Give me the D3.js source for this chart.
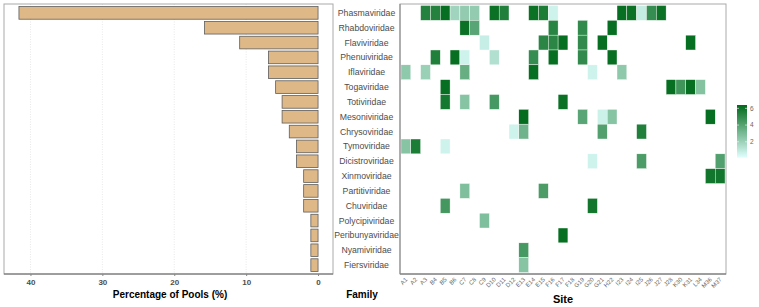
<!DOCTYPE html>
<html>
<head>
<meta charset="utf-8">
<script src="https://cdn.jsdelivr.net/npm/d3@7"></script>
<style>
  body { margin: 0; background: #fff; }
  svg { font-family: "Liberation Sans", Arial, Helvetica, sans-serif; }
</style>
</head>
<body>
<div id="chart"></div>
<script>
let families = ['Phasmaviridae','Rhabdoviridae','Flaviviridae','Phenuiviridae','Iflaviridae',
  'Togaviridae','Totiviridae','Mesoniviridae','Chrysoviridae','Tymoviridae','Dicistroviridae',
  'Xinmoviridae','Partitiviridae','Chuviridae','Polycipiviridae','Peribunyaviridae',
  'Nyamiviridae','Fiersviridae'];

// percentage of pools per family
let pct = [41.6, 15.8, 10.9, 6.9, 6.9, 5.9, 5.0, 5.0, 4.0, 3.0, 3.0, 2.0, 2.0, 2.0, 1.0, 1.0, 1.0, 1.0];

let sites = ['A1','A2','A3','B4','B5','B6','C7','C8','C9','D10','D11','D12','E13','E14','E15',
  'F16','F17','F18','G19','G20','G21','H22','I23','I24','I25','J26','J27','J28','K30','K31',
  'L34','M36','M37'];

// [family, site, value]
let cells = [
  ['Phasmaviridae','A3',5.4],['Phasmaviridae','B4',5.4],['Phasmaviridae','B5',6.2],
  ['Phasmaviridae','B6',1.9],['Phasmaviridae','C7',2.3],['Phasmaviridae','C8',2.3],
  ['Phasmaviridae','D10',6.1],['Phasmaviridae','D11',5.5],['Phasmaviridae','E14',6.1],
  ['Phasmaviridae','E15',5.6],['Phasmaviridae','F16',0.6],['Phasmaviridae','I23',6.2],
  ['Phasmaviridae','I24',6.1],['Phasmaviridae','I25',0.9],['Phasmaviridae','J26',4.9],
  ['Phasmaviridae','J27',6.1],
  ['Rhabdoviridae','C7',6.1],['Rhabdoviridae','C8',3.9],['Rhabdoviridae','F16',5.3],
  ['Rhabdoviridae','G19',5.0],['Rhabdoviridae','H22',6.2],
  ['Flaviviridae','C9',0.8],['Flaviviridae','E15',5.2],['Flaviviridae','F16',5.2],
  ['Flaviviridae','F17',6.2],['Flaviviridae','G19',5.0],['Flaviviridae','G21',6.2],
  ['Flaviviridae','K31',6.2],
  ['Phenuiviridae','B4',5.5],['Phenuiviridae','B6',6.2],['Phenuiviridae','C7',0.6],
  ['Phenuiviridae','D10',1.4],['Phenuiviridae','E14',4.9],['Phenuiviridae','F16',6.2],
  ['Phenuiviridae','G19',5.0],['Phenuiviridae','H22',6.2],
  ['Iflaviridae','A1',2.4],['Iflaviridae','A3',2.1],['Iflaviridae','C7',3.5],
  ['Iflaviridae','E14',6.2],['Iflaviridae','G20',0.6],['Iflaviridae','I23',2.4],
  ['Togaviridae','B5',6.2],['Togaviridae','J28',6.2],['Togaviridae','K30',4.6],
  ['Togaviridae','K31',6.2],['Togaviridae','L34',2.7],
  ['Totiviridae','B5',5.8],['Totiviridae','C7',2.6],['Totiviridae','D10',4.4],
  ['Totiviridae','F17',6.1],
  ['Mesoniviridae','E13',6.3],['Mesoniviridae','G19',3.9],['Mesoniviridae','G21',0.7],
  ['Mesoniviridae','H22',2.6],['Mesoniviridae','M36',6.2],
  ['Chrysoviridae','D12',0.6],['Chrysoviridae','E13',3.3],['Chrysoviridae','G21',4.1],
  ['Chrysoviridae','I25',5.5],
  ['Tymoviridae','A1',2.6],['Tymoviridae','A2',5.6],['Tymoviridae','B5',0.6],
  ['Dicistroviridae','G20',0.6],['Dicistroviridae','I25',4.3],['Dicistroviridae','M37',4.1],
  ['Xinmoviridae','M36',5.9],['Xinmoviridae','M37',5.9],
  ['Partitiviridae','C7',2.8],['Partitiviridae','E15',4.3],
  ['Chuviridae','B5',4.5],['Chuviridae','G20',5.9],
  ['Polycipiviridae','C9',2.8],
  ['Peribunyaviridae','F17',6.2],
  ['Nyamiviridae','E13',4.4],
  ['Fiersviridae','E13',2.6]
];

let pctTicks = [40, 30, 20, 10, 0];
let legendTicks = [2, 4, 6];
let valueRange = [0.1, 6.4];

let width = 759, height = 307;
let svg = d3.select('#chart').append('svg').attr('width', width).attr('height', height);

let panelTop = 4, panelBottom = 274;
let yRow = d3.scaleBand().domain(families).range([panelTop, panelBottom]).paddingOuter(0.1).paddingInner(0);
let step = yRow.step();

// ---- left panel: bars ----
let xBar = d3.scaleLinear().domain([43.68, -2.08]).range([4, 333]);

svg.append('g').selectAll('line')
  .data(pctTicks.filter(t => t !== 0))
  .join('line')
  .attr('x1', d => xBar(d)).attr('x2', d => xBar(d))
  .attr('y1', panelTop).attr('y2', panelBottom)
  .attr('stroke', '#d9d9d9').attr('stroke-width', 0.6).attr('stroke-dasharray', '1,1.5');

svg.append('g').selectAll('rect')
  .data(families)
  .join('rect')
  .attr('x', (d, i) => xBar(pct[i]))
  .attr('width', (d, i) => xBar(0) - xBar(pct[i]))
  .attr('y', d => yRow(d) + step * 0.075)
  .attr('height', step * 0.85)
  .attr('fill', '#DEB887')
  .attr('stroke', '#5e5e5e')
  .attr('stroke-width', 0.8);

svg.append('rect')
  .attr('x', 4).attr('y', panelTop).attr('width', 329).attr('height', panelBottom - panelTop)
  .attr('fill', 'none').attr('stroke', '#aaa').attr('stroke-width', 1);
svg.append('line').attr('x1', 4).attr('x2', 333).attr('y1', panelBottom).attr('y2', panelBottom)
  .attr('stroke', '#666');

let xAxis = svg.append('g')
  .attr('transform', `translate(0,${panelBottom})`)
  .call(d3.axisBottom(xBar).tickValues(pctTicks).tickSize(2).tickPadding(3));
xAxis.select('.domain').remove();
xAxis.selectAll('line').attr('stroke', '#888');
xAxis.selectAll('text').attr('fill', '#4d4d4d').attr('font-size', 8).attr('font-weight', 'bold');

svg.append('text')
  .attr('x', 170).attr('y', 298)
  .attr('text-anchor', 'middle')
  .attr('font-size', 10).attr('font-weight', 'bold')
  .text('Percentage of Pools (%)');

// ---- family labels ----
svg.append('g').selectAll('text')
  .data(families)
  .join('text')
  .attr('x', 366.5)
  .attr('y', d => yRow(d) + step / 2)
  .attr('dy', '0.35em')
  .attr('text-anchor', 'middle')
  .attr('font-size', 8.7)
  .attr('fill', '#4d4d4d')
  .text(d => d);

svg.append('text')
  .attr('x', 362).attr('y', 298)
  .attr('text-anchor', 'middle')
  .attr('font-size', 10).attr('font-weight', 'bold')
  .text('Family');

// ---- heatmap ----
let xSite = d3.scaleBand().domain(sites).range([400, 726]).paddingOuter(0.1).paddingInner(0);
let color = d3.scaleLinear().domain(valueRange).range(['#E0FFFF', '#006a1a'])
  .interpolate(d3.interpolateRgb);

svg.append('g').selectAll('rect')
  .data(cells)
  .join('rect')
  .attr('x', d => xSite(d[1]))
  .attr('y', d => yRow(d[0]))
  .attr('width', xSite.bandwidth())
  .attr('height', yRow.bandwidth())
  .attr('fill', d => color(d[2]))
  .attr('stroke', '#fff')
  .attr('stroke-width', 0.4);

svg.append('rect')
  .attr('x', 400).attr('y', panelTop).attr('width', 326).attr('height', panelBottom - panelTop)
  .attr('fill', 'none').attr('stroke', '#aaa').attr('stroke-width', 1);
svg.append('line').attr('x1', 400).attr('x2', 726).attr('y1', panelBottom).attr('y2', panelBottom)
  .attr('stroke', '#666');
svg.append('line').attr('x1', 400).attr('x2', 400).attr('y1', panelTop).attr('y2', panelBottom)
  .attr('stroke', '#888');

let siteAxis = svg.append('g')
  .attr('transform', `translate(0,${panelBottom})`)
  .call(d3.axisBottom(xSite).tickSize(0).tickPadding(0));
siteAxis.select('.domain').remove();
siteAxis.selectAll('text')
  .attr('font-size', 6)
  .attr('fill', '#666')
  .attr('text-anchor', 'end')
  .attr('dy', 0)
  .attr('transform', 'translate(2,6) rotate(-45)');

svg.append('text')
  .attr('x', 563).attr('y', 303)
  .attr('text-anchor', 'middle')
  .attr('font-size', 11).attr('font-weight', 'bold')
  .text('Site');

// ---- legend ----
let yLeg = d3.scaleLinear().domain(valueRange).range([157.7, 105]);
let grad = svg.append('defs').append('linearGradient')
  .attr('id', 'leg').attr('x1', 0).attr('x2', 0).attr('y1', 1).attr('y2', 0);
grad.selectAll('stop')
  .data(d3.range(0, 1.01, 0.1))
  .join('stop')
  .attr('offset', d => d)
  .attr('stop-color', d => color(valueRange[0] + d * (valueRange[1] - valueRange[0])));

svg.append('rect')
  .attr('x', 737).attr('y', yLeg(valueRange[1]))
  .attr('width', 10).attr('height', yLeg(valueRange[0]) - yLeg(valueRange[1]))
  .attr('fill', 'url(#leg)');

let legTick = svg.append('g').selectAll('g').data(legendTicks).join('g');
legTick.append('line')
  .attr('x1', 737).attr('x2', 739).attr('y1', d => yLeg(d)).attr('y2', d => yLeg(d))
  .attr('stroke', '#fff').attr('stroke-width', 0.6);
legTick.append('line')
  .attr('x1', 745).attr('x2', 747).attr('y1', d => yLeg(d)).attr('y2', d => yLeg(d))
  .attr('stroke', '#fff').attr('stroke-width', 0.6);
legTick.append('text')
  .attr('x', 750).attr('y', d => yLeg(d)).attr('dy', '0.35em')
  .attr('font-size', 6.5).attr('fill', '#666')
  .text(d => d);
</script>
</body>
</html>
